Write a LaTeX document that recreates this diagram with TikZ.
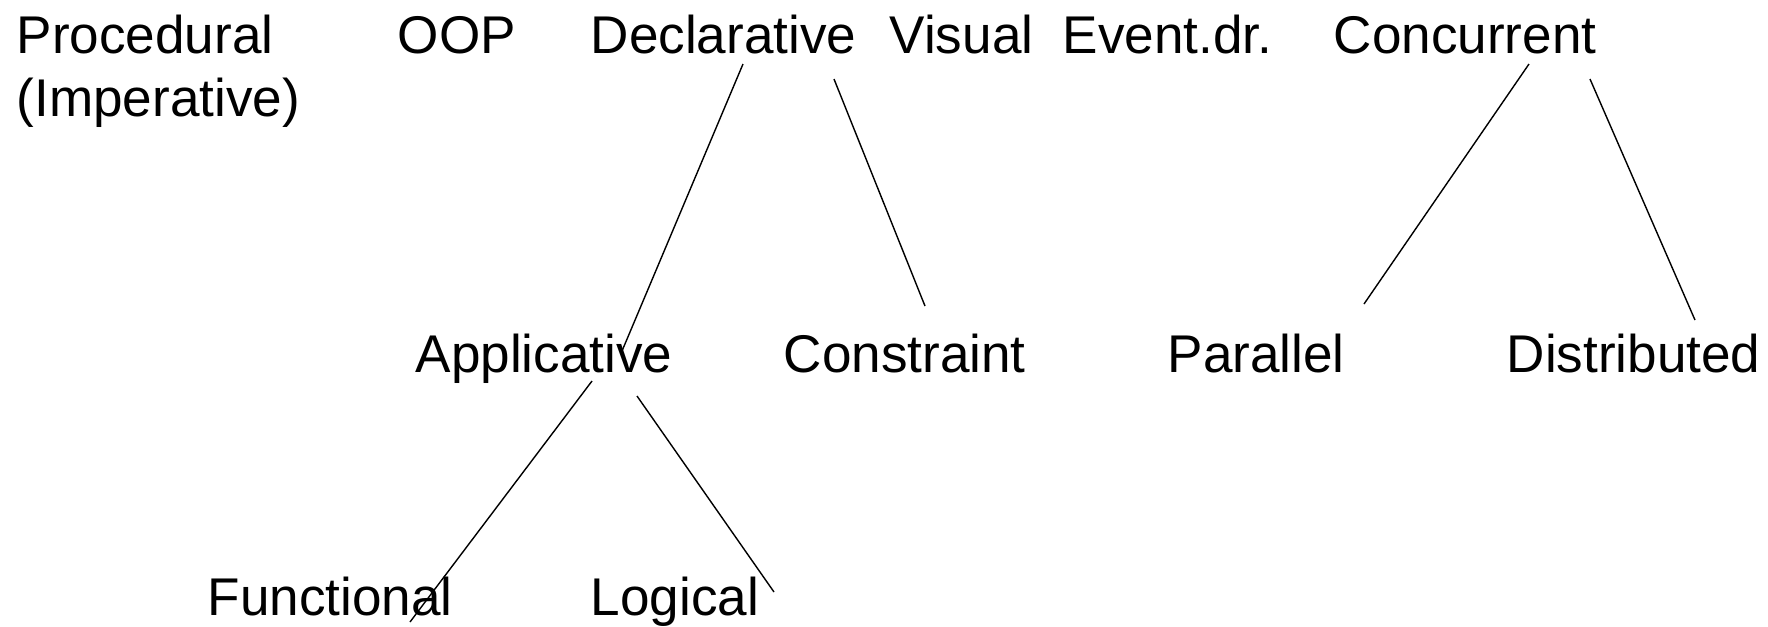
\documentclass[tikz,border=0pt]{standalone}
\usepackage{fontspec}
\setmainfont{Liberation Sans}

\begin{document}
\begin{tikzpicture}[x=0.01cm,y=-0.01cm,
  paradigm/.style={anchor=base west,inner sep=0pt,font=\fontsize{15.1}{17.9}\selectfont}]

  \useasboundingbox (0,0) rectangle (1768,626);

  % top row
  \node[paradigm,align=left] (proc) at (16,116) {Procedural\\(Imperative)};
  \node[paradigm] (oop)  at (397,53)  {OOP};
  \node[paradigm] (decl) at (590,53)  {Declarative};
  \node[paradigm] (vis)  at (889,53)  {Visual};
  \node[paradigm] (event) at (1062,53) {Event.dr.};
  \node[paradigm] (conc) at (1333,53) {Concurrent};

  % middle row
  \node[paradigm] (appl) at (415,372)  {Applicative};
  \node[paradigm] (cons) at (783,372)  {Constraint};
  \node[paradigm] (para) at (1167,372) {Parallel};
  \node[paradigm] (dist) at (1506,372) {Distributed};

  % bottom row
  \node[paradigm] (func) at (207,615) {Functional};
  \node[paradigm] (logi) at (590,615) {Logical};

  % line ends
  \coordinate (declA) at (743,64);
  \coordinate (applD) at (622,351);
  \coordinate (declC) at (834,79);
  \coordinate (consD) at (925,306);
  \coordinate (concP) at (1529,64);
  \coordinate (paraC) at (1364,304);
  \coordinate (concD) at (1590,79);
  \coordinate (distC) at (1695,320);
  \coordinate (applF) at (592,381);
  \coordinate (funcA) at (410,622);
  \coordinate (applL) at (637,396);
  \coordinate (logiA) at (774,592);

  \draw (declA) -- (applD);
  \draw (declC) -- (consD);
  \draw (concP) -- (paraC);
  \draw (concD) -- (distC);
  \draw (applF) -- (funcA);
  \draw (applL) -- (logiA);
\end{tikzpicture}
\end{document}
